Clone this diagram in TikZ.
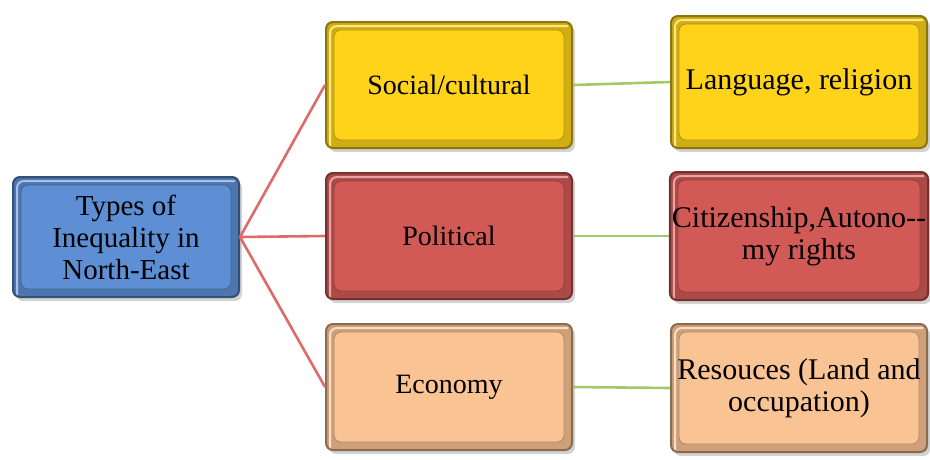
\documentclass[tikz,border=0pt]{standalone}
\usepackage{fontspec}
\setmainfont{Liberation Serif}
\usetikzlibrary{shadows}

\definecolor{typeblue}{HTML}{5E8FD4}
\definecolor{socyellow}{HTML}{FFD31A}
\definecolor{polred}{HTML}{D25A56}
\definecolor{ecopeach}{HTML}{FAC394}
\definecolor{branchred}{HTML}{DE6B68}
\definecolor{leafgreen}{HTML}{A3C86A}

\tikzset{
  % bevelled box: dark rim, lit inner panel, soft shadow
  box/.style={draw=#1!55!black, fill=#1!82!black, line width=2pt, rounded corners=7pt,
    minimum width=246pt, minimum height=126pt, align=center, inner sep=2pt,
    font=\fontsize{28}{32}\selectfont,
    drop shadow={shadow xshift=3pt, shadow yshift=-4pt, opacity=0.35},
    path picture={
      \draw[#1!55!white, line width=2pt]
        ([shift={(4pt,-4pt)}]path picture bounding box.south west) --
        ([shift={(4pt,-4pt)}]path picture bounding box.north west) --
        ([shift={(-4pt,-4pt)}]path picture bounding box.north east);
      \fill[#1, draw=#1!70!black, line width=0.8pt]
        ([shift={(8pt,-8pt)}]path picture bounding box.north west) rectangle
        ([shift={(-8pt,8pt)}]path picture bounding box.south east);}},
  wide/.style={minimum width=256pt, font=\fontsize{30}{32}\selectfont},
  branch/.style={draw=branchred, line width=2.6pt},
  leaf/.style={draw=leafgreen, line width=2.6pt}
}

\begin{document}
\begin{tikzpicture}[x=1pt, y=-1pt]
\useasboundingbox (0,0) rectangle (930,459);

\node[box=typeblue, minimum width=226pt, minimum height=120pt,
  font=\fontsize{29}{32}\selectfont] (types) at (126,237)
  {Types of\\Inequality in\\North-East};

\node[box=socyellow] (social) at (449,85) {Social/cultural};
\node[box=polred] (political) at (449,236) {Political};
\node[box=ecopeach] (economy) at (449,387) {Economy};

\node[box=socyellow, wide, minimum height=132pt] (language) at (799,82) {Language, religion};
\node[box=polred, wide, minimum height=128pt] (citizen) at (799,236)
  {Citizenship,Autono-{}-\\my rights};
\node[box=ecopeach, wide, minimum height=128pt] (resource) at (799,388)
  {Resouces (Land and\\occupation)};

\draw[branch] (types.east) -- (social.west);
\draw[branch] (types.east) -- (political.west);
\draw[branch] (types.east) -- (economy.west);

\draw[leaf] (social.east) -- (language.west);
\draw[leaf] (political.east) -- (citizen.west);
\draw[leaf] (economy.east) -- (resource.west);
\end{tikzpicture}
\end{document}
